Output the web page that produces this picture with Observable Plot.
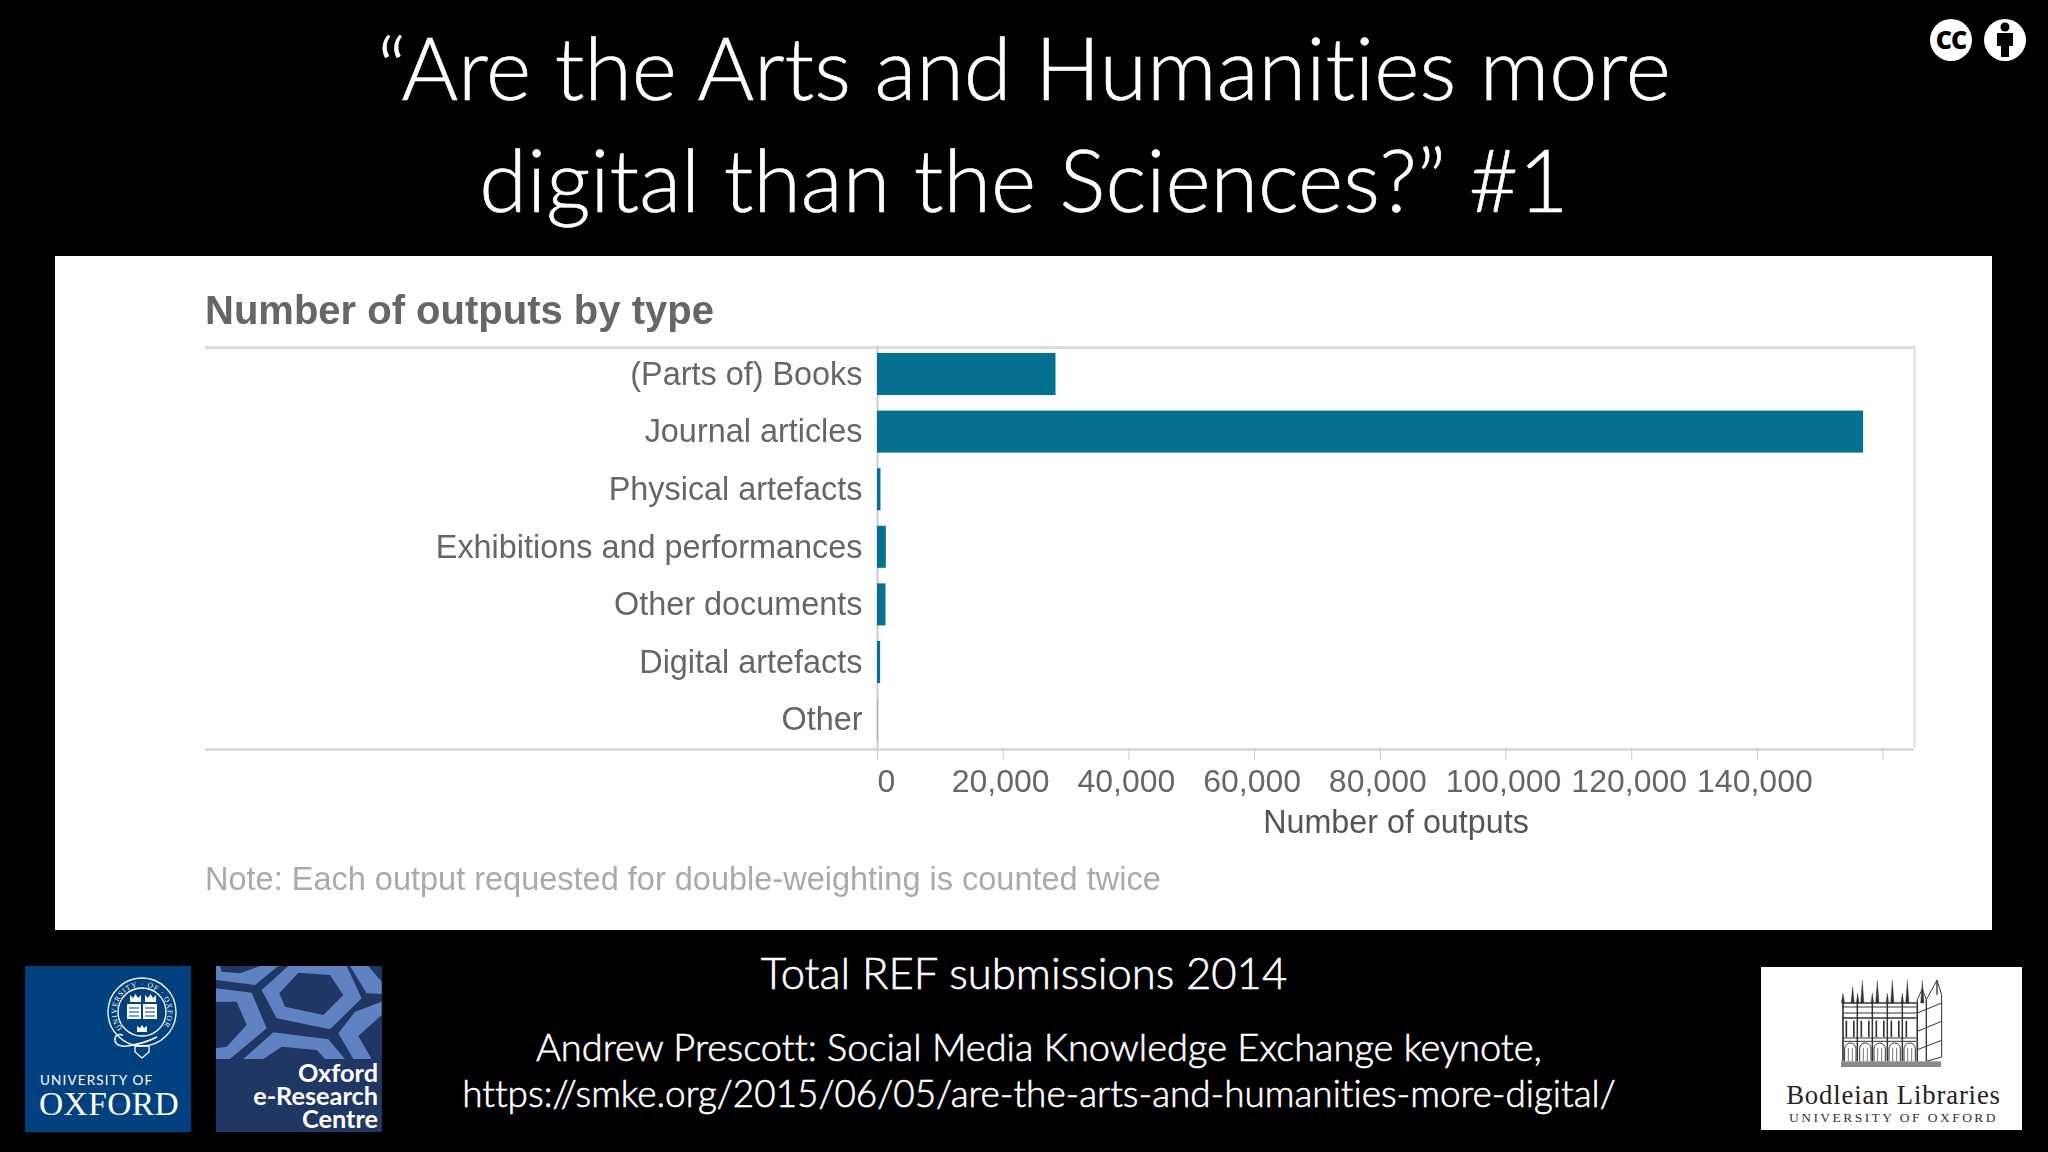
<![CDATA[<!DOCTYPE html>
<html><head><meta charset="utf-8">
<script src="https://cdn.jsdelivr.net/npm/d3@7"></script>
<script src="https://cdn.jsdelivr.net/npm/@observablehq/plot@0.6"></script>
<style>
html,body{margin:0;padding:0;background:#000;width:2048px;height:1152px;overflow:hidden}
.t{position:absolute;color:#fff;font-family:Lato,"Open Sans",sans-serif;font-weight:300;white-space:nowrap;text-align:center;line-height:1;font-variant-ligatures:none;-webkit-text-stroke:.6px #fff}
#panel{position:absolute;left:55px;top:256px;width:1937px;height:674px;background:#fff;overflow:hidden}
#panel .h{position:absolute;left:150px;width:1709px;height:3px;background:#dcdcdc}
#panel .c{position:absolute;font-family:"Liberation Sans",Arial,sans-serif;white-space:nowrap;line-height:1}
#blurred{position:absolute;left:0;top:0;width:1937px;height:674px;filter:blur(.6px)}
svg.logo{position:absolute;display:block;overflow:visible}
</style></head><body>
<div class="t" style="left:0;width:2048px;top:24px;font-size:86.5px" id="l1"></div>
<div class="t" style="left:0;width:2048px;top:136px;font-size:86.5px" id="l2"></div>
<div id="panel"><div id="blurred">
  <div class="c" style="left:150px;top:34px;font-size:40px;font-weight:700;color:#666" id="ct"></div>
  <div class="h" style="top:90px"></div>
  <div class="h" style="top:492px"></div>
  <div class="c" style="left:150px;top:607px;font-size:32.5px;color:#aaa" id="noteEl"></div>
  <div id="chart" style="position:absolute;left:0;top:0"></div>
</div></div>
<div class="t" style="left:0;width:2048px;top:951px;font-size:43.6px" id="b1"></div>
<div class="t" style="left:15px;width:2048px;top:1027px;font-size:38px" id="b2"></div>
<div class="t" style="left:15px;width:2048px;top:1075px;font-size:36.9px" id="b3"></div>

<svg class="logo" id="cc" style="left:1920px;top:10px" width="120" height="60" viewBox="0 0 120 60">
  <circle cx="31" cy="30" r="21" fill="#fff"/>
  <text x="31" y="39" text-anchor="middle" font-family="'Open Sans',sans-serif" font-weight="800" font-size="25" letter-spacing="-1" fill="#000">CC</text>
  <circle cx="85" cy="30" r="21" fill="#fff"/>
  <circle cx="85" cy="17" r="4.5" fill="#000"/>
  <path d="M77 23H93V36H89V47H81V36H77Z" fill="#000"/>
</svg>

<svg class="logo" id="ox" style="left:25px;top:966px" width="166" height="166" viewBox="0 0 166 166">
  <rect width="166" height="166" fill="#01417f"/>
  <g fill="none" stroke="#fff">
    <circle cx="117" cy="46" r="34" stroke-width="1.3"/>
    <circle cx="117" cy="46" r="24" stroke-width="1.3"/>
    <path d="M98 69 q-9 -2 -8 6 q2 6 12 5 q16 -2 30 -9" stroke-width="1.5"/>
  </g>
  <defs><path id="ring" d="M97.5 62.4A25.5 25.5 0 1 1 136.5 62.4" fill="none"/></defs>
  <text font-family="'Liberation Serif',serif" font-size="7.5" fill="#fff"><textPath href="#ring" textLength="118">UNIVERSITY · OF · OXFORD</textPath></text>
  <rect x="102" y="38" width="14" height="15" fill="#fff"/><rect x="118" y="38" width="14" height="15" fill="#fff"/>
  <path d="M104 42h10M104 46h10M104 50h10M120 42h10M120 46h10M120 50h10" stroke="#01417f" stroke-width="1"/>
  <path d="M105 36v-7l3 3 2.5-4 2.5 4 3-3v7zM120 36v-7l3 3 2.5-4 2.5 4 3-3v7zM112 66v-6l3 2 2-3 2 3 3-2v6z" fill="#fff"/>
  <path d="M110 80h14v6l-7 6-7-6z" fill="none" stroke="#fff" stroke-width="1.3"/>
  <text x="15" y="119" font-family="Lato,sans-serif" font-size="13.5" fill="#fff" letter-spacing="1.15">UNIVERSITY OF</text>
  <text x="14" y="149" font-family="'Liberation Serif',serif" font-size="33.5" fill="#fff" letter-spacing=".4">OXFORD</text>
</svg>

<svg class="logo" id="oe" style="left:216px;top:966px" width="166" height="166" viewBox="0 0 166 166">
  <rect width="166" height="166" fill="#203764"/>
  <g transform="scale(.3333) translate(-648,-48)" fill="#5f82c2" fill-rule="evenodd">
    <path d="M785 120 865 48 1040 48 1085 145 990 238 830 205ZM838 130 895 68 990 75 1030 135 970 195 855 170Z"/>
    <path d="M648 48 835 48 765 105 648 90ZM660 48 780 48 720 70 665 65Z"/>
    <path d="M1050 48 1105 48 1145 95 1145 132 1100 130Z"/>
    <path d="M648 115 755 128 800 235 690 327 648 327ZM648 155 710 155 740 225 680 290 648 295Z"/>
    <path d="M730 327 820 247 985 268 1035 327 975 327 950 300 845 290 790 327Z"/>
    <path d="M1145 155 1065 185 1015 250 1060 327 1115 327 1075 258 1145 195Z"/>
  </g>
  <g font-family="Lato,sans-serif" font-weight="700" font-size="25.3" fill="#fff" text-anchor="end">
    <text x="162" y="116">Oxford</text><text x="162" y="139">e-Research</text><text x="162" y="162">Centre</text>
  </g>
</svg>

<svg class="logo" id="bod" style="left:1761px;top:967px" width="261" height="163" viewBox="0 0 261 163">
  <rect width="261" height="163" fill="#fff"/>
  <g id="bld" stroke="#333" fill="none" stroke-width="1"></g>
  <text x="132.5" y="136.5" text-anchor="middle" font-family="'Liberation Serif',serif" font-size="26.7" letter-spacing=".85" fill="#222">Bodleian Libraries</text>
  <text x="132.5" y="155" text-anchor="middle" font-family="'Liberation Serif',serif" font-size="13.5" letter-spacing="2.45" fill="#333">UNIVERSITY OF OXFORD</text>
</svg>

<script>
const titleLines = ["“Are the Arts and Humanities more", "digital than the Sciences?” #1"];
const chartTitle = "Number of outputs by type";
const noteText = "Note: Each output requested for double-weighting is counted twice";
const xLabel = "Number of outputs";
const footerLines = ["Total REF submissions 2014", "Andrew Prescott: Social Media Knowledge Exchange keynote,", "https://smke.org/2015/06/05/are-the-arts-and-humanities-more-digital/"];
const categories = ["(Parts of) Books","Journal articles","Physical artefacts","Exhibitions and performances","Other documents","Digital artefacts","Other"];
const outputs = [28400,156900,550,1400,1350,500,40];
const xTicks = [0,20000,40000,60000,80000,100000,120000,140000,160000];
const xMax = 165000;
const labelledTicks = [20000,40000,60000,80000,100000,120000,140000];

document.getElementById("l1").textContent = titleLines[0];
document.getElementById("l2").textContent = titleLines[1];
document.getElementById("ct").textContent = chartTitle;
document.getElementById("noteEl").textContent = noteText;
document.getElementById("b1").textContent = footerLines[0];
document.getElementById("b2").textContent = footerLines[1];
document.getElementById("b3").textContent = footerLines[2];

const rows = categories.map((c,i)=>({category:c,value:outputs[i]}));
const fmt = d3.format(",");
const grey = "#666";
const chartSvg = Plot.plot({
  width:1937, height:674,
  marginLeft:822, marginRight:78, marginTop:89.8, marginBottom:182.2,
  style:{background:"transparent",fontFamily:"'Liberation Sans',Arial,sans-serif",color:grey,overflow:"visible"},
  x:{domain:[0,xMax]},
  y:{domain:categories,paddingInner:.27,paddingOuter:.125,align:.5,round:false},
  marks:[
    Plot.ruleX([0],{stroke:"#ccc",strokeWidth:2}),
    Plot.ruleX([xMax],{stroke:"#dcdcdc",strokeWidth:2}),
    Plot.barX(rows,{x:"value",y:"category",fill:"#05708f"}),
    Plot.axisY({tickSize:0,tickPadding:15,fontSize:32.4,label:null,fill:grey}),
    Plot.axisX({ticks:xTicks,tickSize:12,stroke:"#ccc",tickFormat:()=>"",label:null}),
    Plot.axisX({ticks:labelledTicks,tickSize:0,tickPadding:21,fontSize:32,fill:grey,dx:-2.5,tickFormat:fmt,label:null}),
    Plot.axisX({ticks:[0],tickSize:0,tickPadding:21,fontSize:32,fill:grey,dx:9,tickFormat:fmt,label:null}),
    Plot.axisX({ticks:[],label:xLabel,labelAnchor:"center",labelArrow:"none",labelOffset:84.6,fontSize:32.3,dx:-3.5,fill:"#555"})
  ]
});
document.getElementById("chart").appendChild(chartSvg);

// Bodleian building line drawing (logo artwork, not chart data)
{
const bld = d3.select("#bld").append("g").attr("transform","scale(.3333) translate(-62,-52)");
const L = (x1,y1,x2,y2,w)=>bld.append("line").attr("x1",x1).attr("y1",y1).attr("x2",x2).attr("y2",y2).attr("stroke-width",w||3);
[160,172,190,205,265,275].forEach(y=>L(308,y,528,y,y===160||y===205?4.5:3));
const spires=[[308,130],[337,110],[366,92],[411,92],[456,92],[501,92],[546,92]];
spires.forEach(([x,t])=>{bld.append("path").attr("d",`M${x-5} 160L${x} ${t}L${x+5} 160Z`).attr("fill","#333");});
[352,396,441,486].forEach(x=>bld.append("path").attr("d",`M${x-4} 160L${x} 130L${x+4} 160Z`).attr("fill","#333"));
[308,351,396,441,486,531].forEach(x=>L(x,155,x,335,x===308?5:4.5));
for(let x=318;x<520;x+=22.5){L(x,213,x,262,5);}
[330,375,418,463,508].forEach(c=>{
  bld.append("path").attr("d",`M${c-17} 335V297a17 17 0 0 1 34 0V335`).attr("stroke-width",3);
  L(c-6,295,c-6,335,2);L(c+6,295,c+6,335,2);
});
bld.append("path").attr("d","M531 335V150L546 118L558 150V335").attr("stroke-width",3);
bld.append("path").attr("d","M558 335V150L590 92L604 135V322L558 335").attr("stroke-width",3);
L(590,92,590,135,4);
[[531,190,604,160],[531,245,604,215],[531,300,604,272]].forEach(a=>L(a[0],a[1],a[2],a[3],3));
bld.append("rect").attr("x",302).attr("y",335).attr("width",300).attr("height",17).attr("fill","#8a8a8a").attr("stroke","none");
}
</script>
</body></html>]]>
